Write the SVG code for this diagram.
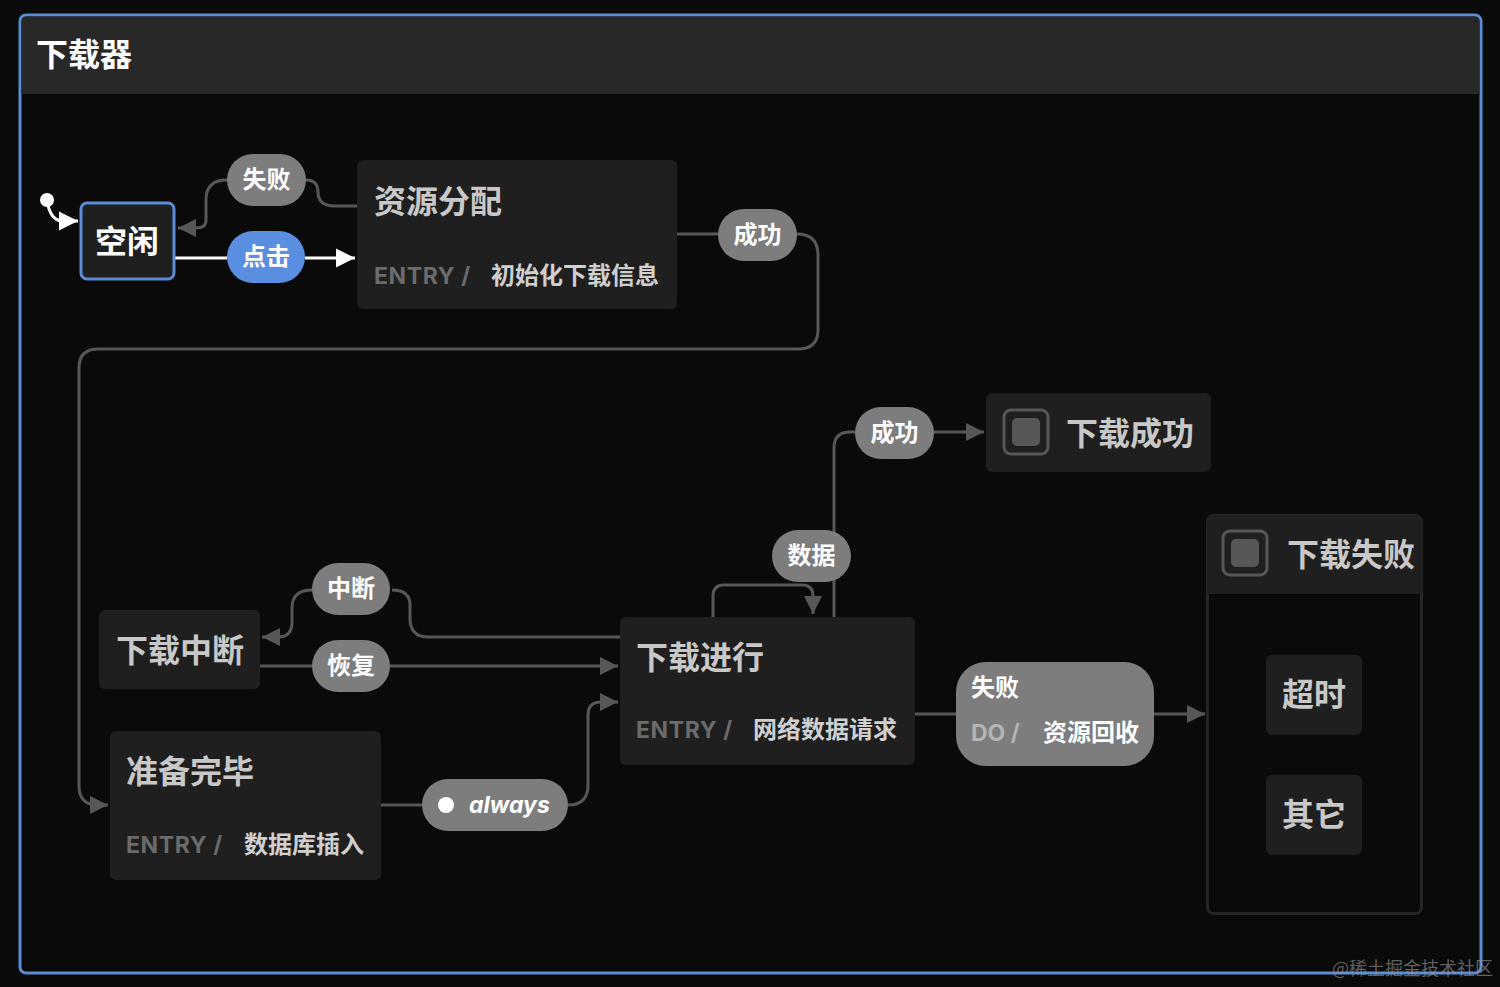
<svg xmlns="http://www.w3.org/2000/svg" width="1500" height="987" viewBox="0 0 1500 987">
<defs>
<style>
.cjk{font-family:"Noto Sans CJK SC","Noto Sans",sans-serif;font-weight:700}
.node{fill:#1f1f1f}
.title{font-size:32px;fill:#c8c8c8}
.act{font-size:24px;fill:#cfcfcf}
.kw{font-family:Inter,"Noto Sans",sans-serif;font-weight:700;font-size:23px;letter-spacing:0.6px;fill:#6b6b6b}
.pill{fill:#7d7d7d}
.pt{font-size:24px;fill:#ffffff}
.edge{fill:none;stroke:#575757;stroke-width:3}
.icon{fill:none;stroke:#575757;stroke-width:3}
</style>
<marker id="ag" viewBox="0 0 10 10" refX="10" refY="5" markerWidth="6" markerHeight="6" markerUnits="strokeWidth" orient="auto"><path d="M0,0 L10,5 L0,10 z" fill="#575757"/></marker>
<marker id="aw" viewBox="0 0 10 10" refX="10" refY="5" markerWidth="6.5" markerHeight="6.5" markerUnits="strokeWidth" orient="auto"><path d="M0,0 L10,5 L0,10 z" fill="#ffffff"/></marker>
</defs>
<rect width="1500" height="987" fill="#0a0a0a"/>
<g id="frame">
<rect x="20" y="15" width="1461" height="958" rx="6" fill="#0a0a0a" stroke="#5b8dd6" stroke-width="3"/>
<path d="M21.5,94 V22 Q21.5,16.5 27,16.5 H1474 Q1479.5,16.5 1479.5,22 V94 z" fill="#282828"/>
<text x="36" y="66" class="cjk" font-size="32" fill="#ffffff">下载器</text>
</g>
<g id="connectors">
<circle cx="47" cy="200" r="7" fill="#ffffff"/>
<path d="M47,200 Q50,221 63,221 H78" fill="none" stroke="#ffffff" stroke-width="3" marker-end="url(#aw)"/>
<path d="M357,206 H335 Q318,206 318,192 Q318,180 306,180" class="edge"/>
<path d="M227,180 Q206,180 206,200 V220 Q206,228 196,228 H178" class="edge" marker-end="url(#ag)"/>
<path d="M174,258 H227" fill="none" stroke="#ffffff" stroke-width="3"/>
<path d="M305,258 H355" fill="none" stroke="#ffffff" stroke-width="3" marker-end="url(#aw)"/>
<path d="M677,234 H718" class="edge"/>
<path d="M797,234 Q818,234 818,255 V330 Q818,349 798,349 H98 Q79,349 79,368 V786 Q79,805 98,805 H108" class="edge" marker-end="url(#ag)"/>
<path d="M620,637 H428 Q410,637 410,618 V605 Q410,590 392,590" class="edge"/>
<path d="M312,590 Q292,590 292,608 V622 Q292,637 278,637 H262" class="edge" marker-end="url(#ag)"/>
<path d="M260,666 H312" class="edge"/>
<path d="M390,666 H618" class="edge" marker-end="url(#ag)"/>
<path d="M713,617 V596 Q713,585 724,585 H802 Q813,585 813,596 V614" class="edge" marker-end="url(#ag)"/>
<path d="M915,663 H850 Q834,663 834,647 V448 Q834,432 850,432 H855" class="edge"/>
<path d="M934,432 H984" class="edge" marker-end="url(#ag)"/>
<path d="M915,714 H956" class="edge"/>
<path d="M1154,714 H1205" class="edge" marker-end="url(#ag)"/>
<path d="M381,805 H422" class="edge"/>
<path d="M568,805 Q588,805 588,785 V715 Q588,702 601,702 H618" class="edge" marker-end="url(#ag)"/>
</g>
<g id="label-fail1"><rect x="227" y="154" width="79" height="52" rx="26" class="pill"/><text x="266.5" y="188" text-anchor="middle" class="cjk pt">失败</text></g>
<g id="label-click"><rect x="227" y="231" width="78" height="52" rx="26" fill="#5a8ee0"/><text x="266" y="265" text-anchor="middle" class="cjk pt">点击</text></g>
<g id="label-ok1"><rect x="718" y="209" width="79" height="52" rx="26" class="pill"/><text x="757.5" y="243" text-anchor="middle" class="cjk pt">成功</text></g>
<g id="label-interrupt"><rect x="312" y="563" width="78" height="52" rx="26" class="pill"/><text x="351" y="597" text-anchor="middle" class="cjk pt">中断</text></g>
<g id="label-resume"><rect x="312" y="640" width="78" height="52" rx="26" class="pill"/><text x="351" y="674" text-anchor="middle" class="cjk pt">恢复</text></g>
<g id="label-data"><rect x="772" y="530" width="79" height="52" rx="26" class="pill"/><text x="811.5" y="564" text-anchor="middle" class="cjk pt">数据</text></g>
<g id="label-ok2"><rect x="855" y="407" width="79" height="52" rx="26" class="pill"/><text x="894.5" y="441" text-anchor="middle" class="cjk pt">成功</text></g>
<g id="label-always"><rect x="422" y="779" width="146" height="52" rx="26" class="pill"/><circle cx="446" cy="805" r="8" fill="#ffffff"/><text x="469" y="813" font-family="Inter,'Noto Sans',sans-serif" font-weight="700" font-style="italic" font-size="23" fill="#ffffff">always</text></g>
<g id="label-fail2"><rect x="956" y="662" width="198" height="104" rx="30" class="pill"/><text x="971" y="696" class="cjk pt">失败</text><text x="971" y="741" font-family="Inter,'Noto Sans',sans-serif" font-weight="700" font-size="23" fill="#b4b4b4">DO /</text><text x="1043" y="741" class="cjk act" style="fill:#ffffff">资源回收</text></g>
<g id="idle"><rect x="81" y="203" width="93" height="76" rx="6" fill="#1f1f1f" stroke="#5b8dd6" stroke-width="3"/><text x="127" y="253" text-anchor="middle" class="cjk" font-size="32" fill="#ffffff">空闲</text></g>
<g id="alloc"><rect x="357" y="160" width="320" height="149" rx="6" class="node"/><text x="374" y="213" class="cjk title">资源分配</text><text x="374" y="284" class="kw">ENTRY /</text><text x="491" y="284" class="cjk act">初始化下载信息</text></g>
<g id="paused"><rect x="99" y="610" width="161" height="79" rx="6" class="node"/><text x="116" y="662" class="cjk title">下载中断</text></g>
<g id="downloading"><rect x="620" y="617" width="295" height="148" rx="6" class="node"/><text x="636" y="669" class="cjk title">下载进行</text><text x="636" y="738" class="kw">ENTRY /</text><text x="753" y="738" class="cjk act">网络数据请求</text></g>
<g id="ready"><rect x="110" y="731" width="271" height="149" rx="6" class="node"/><text x="126" y="783" class="cjk title">准备完毕</text><text x="126" y="853" class="kw">ENTRY /</text><text x="244" y="853" class="cjk act">数据库插入</text></g>
<g id="success"><rect x="986" y="393" width="225" height="79" rx="6" class="node"/><rect x="1004" y="410" width="44" height="44" rx="7" class="icon"/><rect x="1012" y="418" width="28" height="28" rx="5" fill="#575757"/><text x="1066" y="445" class="cjk title">下载成功</text></g>
<g id="failed"><rect x="1207.5" y="515.5" width="214" height="398" rx="6" fill="#0a0a0a" stroke="#262626" stroke-width="3"/><path d="M1207,594 V521 Q1207,515 1213,515 H1416 Q1422,515 1422,521 V594 z" fill="#1f1f1f"/><rect x="1223" y="531" width="44" height="44" rx="7" class="icon"/><rect x="1231" y="539" width="28" height="28" rx="5" fill="#575757"/><text x="1287" y="566" class="cjk title">下载失败</text></g>
<g id="timeout"><rect x="1266" y="655" width="96" height="80" rx="6" class="node"/><text x="1314" y="706" text-anchor="middle" class="cjk title">超时</text></g>
<g id="other"><rect x="1266" y="775" width="96" height="80" rx="6" class="node"/><text x="1314" y="826" text-anchor="middle" class="cjk title">其它</text></g>
<text x="1332" y="975" font-family="'Noto Sans CJK SC',sans-serif" font-size="18" fill="#9a9a9a" fill-opacity="0.6">@稀土掘金技术社区</text>
</svg>
